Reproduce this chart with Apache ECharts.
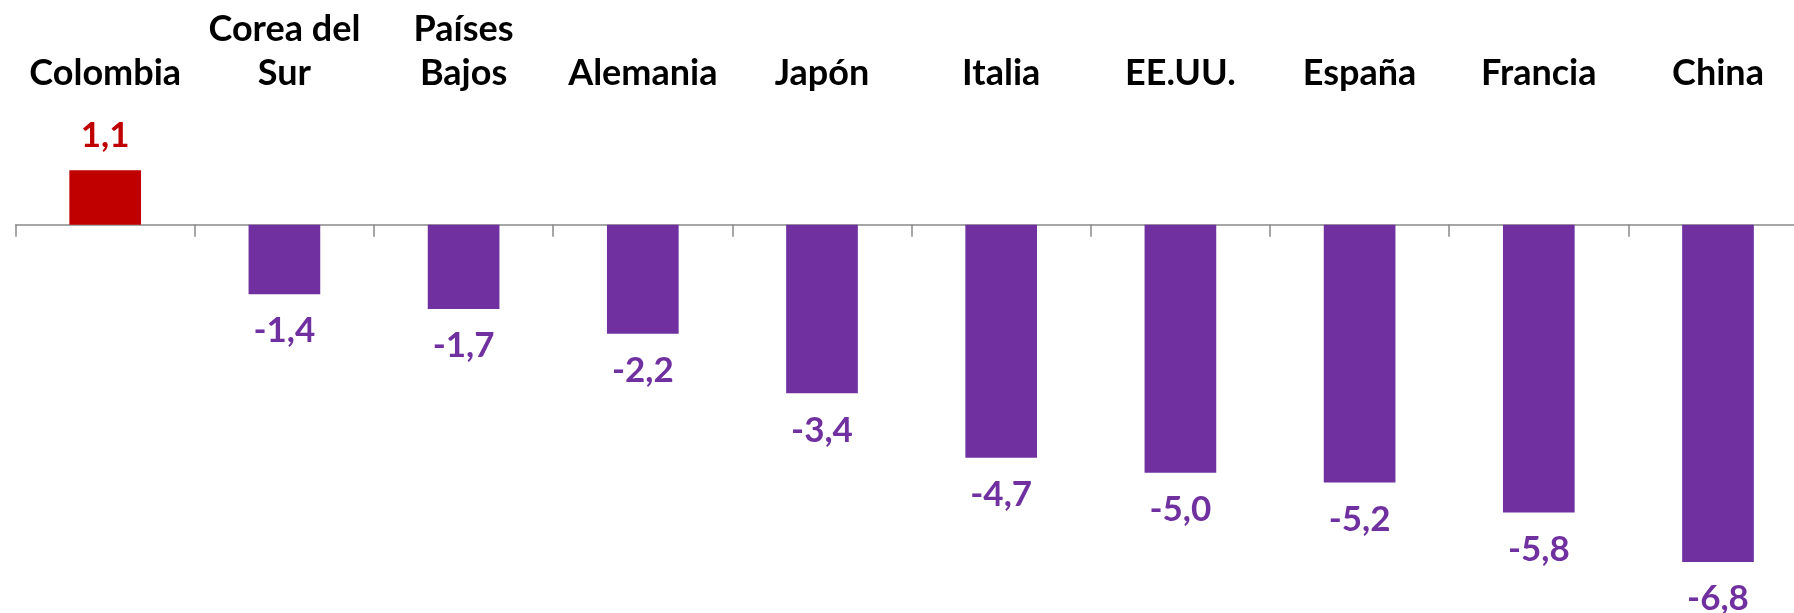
<!DOCTYPE html>
<html>
<head>
<meta charset="utf-8">
<script src="https://cdn.jsdelivr.net/npm/echarts@6/dist/echarts.min.js"></script>
<style>
  html, body { margin: 0; padding: 0; background: #fff; }
  #chart { width: 1794px; height: 613px; }
</style>
</head>
<body>
<div id="chart"></div>
<script>
// datos
const paises = ['Colombia', 'Corea del\nSur', 'Países\nBajos', 'Alemania', 'Japón', 'Italia', 'EE.UU.', 'España', 'Francia', 'China'];
const valores = [1.1, -1.4, -1.7, -2.2, -3.4, -4.7, -5.0, -5.2, -5.8, -6.8];
const colorPositivo = '#C00000';
const colorNegativo = '#7030A0';

const fuente = 'Lato, "Open Sans", sans-serif';

const chart = echarts.init(document.getElementById('chart'));

const datos = valores.map(v => {
  const c = v >= 0 ? colorPositivo : colorNegativo;
  return {
    value: v,
    itemStyle: { color: c },
    label: {
      position: v >= 0 ? 'top' : 'bottom',
      distance: v >= 0 ? 14 : 17,
      color: c
    }
  };
});

chart.setOption({
  animation: false,
  // la rejilla sigue más allá del borde derecho, como en el original
  grid: { left: 15.6, width: 1792, top: 125.5, bottom: 41.1, outerBoundsMode: 'none' },
  xAxis: [
    {
      type: 'category',
      data: paises,
      axisLine: { onZero: true, lineStyle: { color: '#898989', width: 1.5 } },
      axisTick: { show: true, length: 12, lineStyle: { color: '#898989', width: 1.5 } },
      axisLabel: { show: false },
      splitLine: { show: false }
    },
    {
      type: 'category',
      data: paises,
      position: 'top',
      axisLine: { show: false },
      axisTick: { show: false },
      axisLabel: {
        margin: 30,
        fontFamily: fuente,
        fontWeight: 'bold',
        fontSize: 36,
        lineHeight: 44,
        color: '#000',
        interval: 0
      }
    }
  ],
  yAxis: {
    type: 'value',
    min: -7,
    max: 2,
    show: false,
    splitLine: { show: false }
  },
  series: [
    {
      type: 'bar',
      xAxisIndex: 0,
      data: datos,
      barWidth: '40%',
      label: {
        show: true,
        fontFamily: fuente,
        fontWeight: 'bold',
        fontSize: 35,
        lineHeight: 40,
        formatter: p => p.value.toFixed(1).replace('.', ',')
      }
    }
  ]
});
</script>
</body>
</html>
